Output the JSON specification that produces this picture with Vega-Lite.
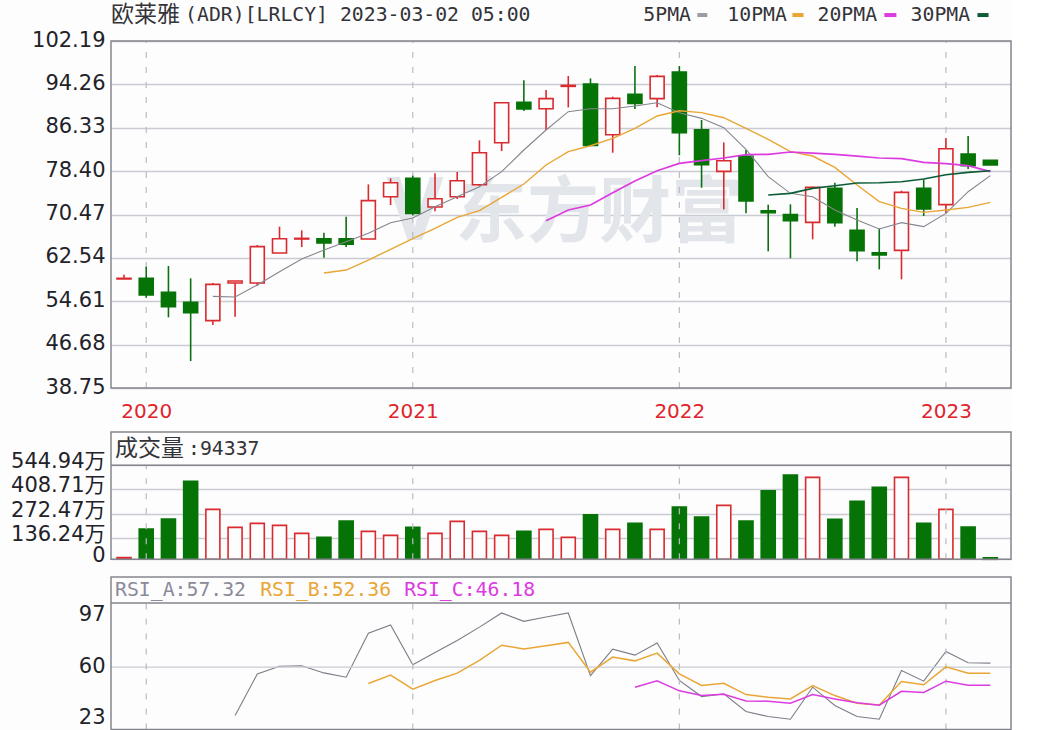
{
  "$schema": "https://vega.github.io/schema/vega-lite/v6.json",
  "background": "#fdfdfe",
  "padding": 0,
  "spacing": 10,
  "config": {
    "view": {"stroke": null},
    "axis": {"labelFont": "DejaVu Sans, Noto Sans CJK SC", "labelFontSize": 21, "labelColor": "#222228"},
    "text": {"font": "DejaVu Sans Mono, Noto Sans CJK SC", "fontSize": 19.8, "align": "left", "baseline": "middle"}
  },
  "datasets": {
    "years": [{"i": 1}, {"i": 13}, {"i": 25}, {"i": 37}],
    "months": [
      {"month": "2019-12", "i": 0, "open": 58.68, "close": 58.80, "high": 59.47, "low": 58.68, "vol": 10.5},
      {"month": "2020-01", "i": 1, "open": 58.80, "close": 55.75, "high": 60.93, "low": 55.26, "vol": 185.2},
      {"month": "2020-02", "i": 2, "open": 56.24, "close": 53.62, "high": 61.05, "low": 51.67, "vol": 241.6},
      {"month": "2020-03", "i": 3, "open": 54.41, "close": 52.52, "high": 58.80, "low": 43.69, "vol": 454.2},
      {"month": "2020-04", "i": 4, "open": 51.06, "close": 57.70, "high": 57.95, "low": 50.27, "vol": 296.2, "ma5": 55.51},
      {"month": "2020-05", "i": 5, "open": 57.95, "close": 58.31, "high": 58.31, "low": 51.79, "vol": 194.6, "ma5": 55.39, "rsiA": 25.4},
      {"month": "2020-06", "i": 6, "open": 57.95, "close": 64.59, "high": 64.89, "low": 57.46, "vol": 217.1, "ma5": 57.58, "rsiA": 55.2},
      {"month": "2020-07", "i": 7, "open": 63.43, "close": 66.05, "high": 68.25, "low": 63.43, "vol": 205.9, "ma5": 60.02, "rsiA": 60.7},
      {"month": "2020-08", "i": 8, "open": 65.99, "close": 66.11, "high": 67.57, "low": 64.53, "vol": 160.7, "ma5": 62.33, "rsiA": 61.0},
      {"month": "2020-09", "i": 9, "open": 66.05, "close": 65.26, "high": 67.15, "low": 62.58, "vol": 138.1, "ma5": 63.98, "ma10": 59.77, "rsiA": 55.9},
      {"month": "2020-10", "i": 10, "open": 66.05, "close": 65.02, "high": 70.07, "low": 64.53, "vol": 230.3, "ma5": 65.50, "ma10": 60.32, "rsiA": 52.8},
      {"month": "2020-11", "i": 11, "open": 65.99, "close": 73.00, "high": 75.98, "low": 65.99, "vol": 172.0, "ma5": 67.03, "ma10": 62.15, "rsiA": 84.3, "rsiB": 48.3},
      {"month": "2020-12", "i": 12, "open": 73.73, "close": 76.29, "high": 77.08, "low": 72.21, "vol": 149.4, "ma5": 68.98, "ma10": 64.10, "rsiA": 90.1, "rsiB": 54.3},
      {"month": "2021-01", "i": 13, "open": 77.08, "close": 70.68, "high": 77.57, "low": 70.32, "vol": 194.6, "ma5": 69.83, "ma10": 66.05, "rsiA": 61.7, "rsiB": 44.3},
      {"month": "2021-02", "i": 14, "open": 71.84, "close": 73.36, "high": 78.00, "low": 71.05, "vol": 160.7, "ma5": 71.90, "ma10": 67.94, "rsiA": 70.5, "rsiB": 50.5},
      {"month": "2021-03", "i": 15, "open": 73.73, "close": 76.65, "high": 78.24, "low": 73.30, "vol": 228.4, "ma5": 73.73, "ma10": 69.95, "rsiA": 79.1, "rsiB": 55.7},
      {"month": "2021-04", "i": 16, "open": 75.92, "close": 81.77, "high": 84.03, "low": 75.74, "vol": 172.0, "ma5": 75.56, "ma10": 71.17, "rsiA": 88.6, "rsiB": 64.8},
      {"month": "2021-05", "i": 17, "open": 83.60, "close": 90.91, "high": 90.91, "low": 82.08, "vol": 149.4, "ma5": 78.30, "ma10": 73.61, "rsiA": 98.7, "rsiB": 75.7},
      {"month": "2021-06", "i": 18, "open": 90.98, "close": 89.76, "high": 95.00, "low": 89.39, "vol": 172.0, "ma5": 82.26, "ma10": 76.05, "rsiA": 92.7, "rsiB": 72.9},
      {"month": "2021-07", "i": 19, "open": 89.82, "close": 91.65, "high": 93.23, "low": 85.92, "vol": 183.3, "ma5": 85.92, "ma10": 79.52, "ma20": 69.34, "rsiA": 95.8, "rsiB": 75.3},
      {"month": "2021-08", "i": 20, "open": 93.90, "close": 94.08, "high": 95.79, "low": 90.06, "vol": 138.1, "ma5": 89.27, "ma10": 81.96, "ma20": 71.29, "rsiA": 98.7, "rsiB": 77.7},
      {"month": "2021-09", "i": 21, "open": 94.33, "close": 83.11, "high": 95.36, "low": 82.99, "vol": 266.0, "ma5": 89.82, "ma10": 83.05, "ma20": 72.21, "rsiA": 54.0, "rsiB": 56.4},
      {"month": "2021-10", "i": 22, "open": 85.06, "close": 91.71, "high": 92.01, "low": 81.77, "vol": 183.3, "ma5": 89.82, "ma10": 84.39, "ma20": 74.46, "rsiA": 72.9, "rsiB": 67.2},
      {"month": "2021-11", "i": 23, "open": 92.44, "close": 90.79, "high": 97.62, "low": 89.76, "vol": 217.1, "ma5": 90.30, "ma10": 86.22, "ma20": 76.59, "rsiA": 68.6, "rsiB": 64.5, "rsiC": 45.7},
      {"month": "2021-12", "i": 24, "open": 91.65, "close": 95.73, "high": 95.97, "low": 90.06, "vol": 183.3, "ma5": 90.91, "ma10": 88.48, "ma20": 78.48, "rsiA": 77.2, "rsiB": 70.0, "rsiC": 50.2},
      {"month": "2022-01", "i": 25, "open": 96.52, "close": 85.43, "high": 97.62, "low": 81.29, "vol": 309.3, "ma5": 89.09, "ma10": 89.45, "ma20": 79.82, "rsiA": 50.5, "rsiB": 55.2, "rsiC": 43.1},
      {"month": "2022-02", "i": 26, "open": 85.98, "close": 79.58, "high": 87.75, "low": 75.37, "vol": 252.9, "ma5": 88.05, "ma10": 89.09, "ma20": 80.31, "rsiA": 39.0, "rsiB": 46.9, "rsiC": 39.7},
      {"month": "2022-03", "i": 27, "open": 78.36, "close": 80.31, "high": 83.66, "low": 71.41, "vol": 318.8, "ma5": 86.34, "ma10": 88.17, "ma20": 80.80, "rsiA": 40.9, "rsiB": 48.5, "rsiC": 40.7},
      {"month": "2022-04", "i": 28, "open": 81.10, "close": 72.94, "high": 82.26, "low": 70.68, "vol": 230.3, "ma5": 82.38, "ma10": 86.22, "ma20": 81.41, "rsiA": 28.3, "rsiB": 40.4, "rsiC": 35.9},
      {"month": "2022-05", "i": 29, "open": 71.17, "close": 70.80, "high": 72.27, "low": 63.74, "vol": 401.6, "ma5": 77.39, "ma10": 84.21, "ma20": 81.47, "ma30": 74.03, "rsiA": 24.7, "rsiB": 38.5, "rsiC": 35.7},
      {"month": "2022-06", "i": 30, "open": 70.44, "close": 69.34, "high": 72.33, "low": 62.46, "vol": 490.0, "ma5": 74.34, "ma10": 81.96, "ma20": 81.90, "ma30": 74.34, "rsiA": 22.8, "rsiB": 37.3, "rsiC": 34.2},
      {"month": "2022-07", "i": 31, "open": 69.04, "close": 75.44, "high": 75.56, "low": 65.93, "vol": 476.8, "ma5": 73.73, "ma10": 81.16, "ma20": 81.71, "ma30": 75.25, "rsiA": 45.7, "rsiB": 46.9, "rsiC": 40.4},
      {"month": "2022-08", "i": 32, "open": 75.25, "close": 68.98, "high": 76.29, "low": 68.25, "vol": 239.7, "ma5": 71.29, "ma10": 79.09, "ma20": 81.47, "ma30": 75.74, "rsiA": 32.6, "rsiB": 39.7, "rsiC": 37.3},
      {"month": "2022-09", "i": 33, "open": 67.57, "close": 63.86, "high": 71.66, "low": 61.91, "vol": 341.3, "ma5": 69.46, "ma10": 75.86, "ma20": 81.16, "ma30": 76.23, "rsiA": 24.7, "rsiB": 34.2, "rsiC": 34.5},
      {"month": "2022-10", "i": 34, "open": 63.49, "close": 63.07, "high": 67.88, "low": 60.44, "vol": 420.4, "ma5": 67.82, "ma10": 72.82, "ma20": 80.80, "ma30": 76.29, "rsiA": 22.8, "rsiB": 33.0, "rsiC": 32.8},
      {"month": "2022-11", "i": 35, "open": 63.92, "close": 74.52, "high": 74.83, "low": 58.62, "vol": 476.8, "ma5": 68.98, "ma10": 71.60, "ma20": 80.68, "ma30": 76.47, "rsiA": 57.6, "rsiB": 49.7, "rsiC": 42.8},
      {"month": "2022-12", "i": 36, "open": 75.25, "close": 71.48, "high": 76.90, "low": 70.20, "vol": 217.1, "ma5": 68.25, "ma10": 70.87, "ma20": 80.01, "ma30": 76.96, "rsiA": 50.0, "rsiB": 47.4, "rsiC": 41.9},
      {"month": "2023-01", "i": 37, "open": 72.27, "close": 82.50, "high": 84.46, "low": 70.68, "vol": 296.2, "ma5": 70.68, "ma10": 71.29, "ma20": 79.76, "ma30": 77.75, "rsiA": 71.2, "rsiB": 60.2, "rsiC": 50.0},
      {"month": "2023-02", "i": 38, "open": 81.53, "close": 79.40, "high": 84.82, "low": 78.79, "vol": 196.4, "ma5": 74.64, "ma10": 71.78, "ma20": 79.40, "ma30": 78.18, "rsiA": 63.1, "rsiB": 55.7, "rsiC": 47.1},
      {"month": "2023-03", "i": 39, "open": 80.37, "close": 79.52, "high": 80.37, "low": 79.52, "vol": 9.43, "ma5": 77.57, "ma10": 72.69, "ma20": 78.30, "ma30": 78.48, "rsiA": 62.9, "rsiB": 55.7, "rsiC": 47.1}
    ]
  },
  "vconcat": [
    {
      "width": 900,
      "height": 388,
      "layer": [
        {
          "data": {"name": "months"},
          "mark": {"type": "point", "opacity": 0},
          "encoding": {
            "x": {
              "field": "i",
              "type": "quantitative",
              "title": null,
              "scale": {"domain": [-0.586, 39.93], "nice": false, "zero": false, "padding": 0},
              "axis": {
                "values": [1, 13, 25, 37],
                "labelExpr": "'' + (2020 + (datum.value - 1) / 12)",
                "labelColor": "#e0242c",
                "labelFontSize": 20,
                "labelPadding": 13,
                "ticks": false,
                "domain": false,
                "grid": false
              }
            },
            "y": {
              "field": "close",
              "type": "quantitative",
              "title": null,
              "scale": {"domain": [38.75, 109.69], "nice": false, "zero": false},
              "axis": {
                "values": [38.75, 46.68, 54.61, 62.54, 70.47, 78.40, 86.33, 94.26, 102.19],
                "tickCount": 10,
                "format": ".2f",
                "grid": true,
                "gridColor": "#c9ccd2",
                "gridWidth": 1.4,
                "ticks": false,
                "domain": false,
                "labelPadding": 6,
                "labelOffset": -1,
                "labelOverlap": false,
                "minExtent": 111,
                "maxExtent": 111
              }
            }
          }
        },
        {
          "data": {"values": [{}]},
          "mark": {"type": "text", "text": "东方财富", "font": "Noto Sans CJK SC", "fontWeight": 700, "fontSize": 72, "color": "#e2e5ea"},
          "encoding": {"x": {"datum": 14.9}, "y": {"datum": 70.56}}
        },
        {
          "data": {"values": [{}]},
          "mark": {"type": "text", "text": "V", "font": "Noto Sans", "fontWeight": 700, "fontSize": 88, "color": "#e2e5ea"},
          "encoding": {"x": {"datum": 11.8}, "y": {"datum": 70.56}}
        },
        {
          "data": {"name": "years"},
          "mark": {"type": "rule", "stroke": "#b9bcc4", "strokeWidth": 1.2, "strokeDash": [6, 9]},
          "encoding": {"x": {"field": "i", "type": "quantitative"}, "y": {"datum": 38.75}, "y2": {"datum": 102.19}}
        },
        {
          "data": {"values": [{}]},
          "mark": {"type": "rect", "filled": false, "stroke": "#85858e", "strokeWidth": 1.5},
          "encoding": {"x": {"datum": -0.586}, "x2": {"datum": 39.93}, "y": {"datum": 38.75}, "y2": {"datum": 102.19}}
        },
        {
          "data": {"name": "months"},
          "mark": {"type": "rule", "strokeWidth": 1.6},
          "encoding": {
            "x": {"field": "i", "type": "quantitative"},
            "y": {"field": "low", "type": "quantitative"},
            "y2": {"field": "high"},
            "stroke": {"condition": {"test": "datum.close >= datum.open", "value": "#d92a2e"}, "value": "#0b7010"}
          }
        },
        {
          "data": {"name": "months"},
          "mark": {"type": "bar", "orient": "vertical", "size": 14, "strokeWidth": 1.6},
          "encoding": {
            "x": {"field": "i", "type": "quantitative"},
            "y": {"field": "open", "type": "quantitative"},
            "y2": {"field": "close"},
            "fill": {"condition": {"test": "datum.close >= datum.open", "value": "#fdfdfe"}, "value": "#067306"},
            "stroke": {"condition": {"test": "datum.close >= datum.open", "value": "#d92a2e"}, "value": "#067306"}
          }
        },
        {
          "data": {"name": "months"},
          "mark": {"type": "line", "stroke": "#85858f", "strokeWidth": 1.1},
          "encoding": {"x": {"field": "i", "type": "quantitative"}, "y": {"field": "ma5", "type": "quantitative"}}
        },
        {
          "data": {"name": "months"},
          "mark": {"type": "line", "stroke": "#e9a635", "strokeWidth": 1.4},
          "encoding": {"x": {"field": "i", "type": "quantitative"}, "y": {"field": "ma10", "type": "quantitative"}}
        },
        {
          "data": {"name": "months"},
          "mark": {"type": "line", "stroke": "#dc3be0", "strokeWidth": 1.7},
          "encoding": {"x": {"field": "i", "type": "quantitative"}, "y": {"field": "ma20", "type": "quantitative"}}
        },
        {
          "data": {"name": "months"},
          "mark": {"type": "line", "stroke": "#0c5c36", "strokeWidth": 1.6},
          "encoding": {"x": {"field": "i", "type": "quantitative"}, "y": {"field": "ma30", "type": "quantitative"}}
        },
        {
          "data": {"values": [{}]},
          "mark": {"type": "text", "text": "欧莱雅", "fontSize": 23, "color": "#333338"},
          "encoding": {"x": {"datum": -0.586}, "y": {"datum": 106.94}}
        },
        {
          "data": {"values": [{}]},
          "mark": {"type": "text", "text": "(ADR)[LRLCY] 2023-03-02 05:00", "color": "#333338"},
          "encoding": {"x": {"datum": 2.75}, "y": {"datum": 106.94}}
        },
        {
          "data": {"values": [{}]},
          "mark": {"type": "text", "text": "5PMA", "color": "#333338"},
          "encoding": {"x": {"datum": 23.38}, "y": {"datum": 106.94}}
        },
        {
          "data": {"values": [{}]},
          "mark": {"type": "text", "text": "10PMA", "color": "#333338"},
          "encoding": {"x": {"datum": 27.16}, "y": {"datum": 106.94}}
        },
        {
          "data": {"values": [{}]},
          "mark": {"type": "text", "text": "20PMA", "color": "#333338"},
          "encoding": {"x": {"datum": 31.22}, "y": {"datum": 106.94}}
        },
        {
          "data": {"values": [{}]},
          "mark": {"type": "text", "text": "30PMA", "color": "#333338"},
          "encoding": {"x": {"datum": 35.41}, "y": {"datum": 106.94}}
        },
        {
          "data": {"values": [{}]},
          "mark": {"type": "rule", "stroke": "#9c9ca6", "strokeWidth": 4},
          "encoding": {"x": {"datum": 25.81}, "x2": {"datum": 26.26}, "y": {"datum": 106.94}}
        },
        {
          "data": {"values": [{}]},
          "mark": {"type": "rule", "stroke": "#e9a635", "strokeWidth": 4},
          "encoding": {"x": {"datum": 30.09}, "x2": {"datum": 30.59}, "y": {"datum": 106.94}}
        },
        {
          "data": {"values": [{}]},
          "mark": {"type": "rule", "stroke": "#dc3be0", "strokeWidth": 4},
          "encoding": {"x": {"datum": 34.23}, "x2": {"datum": 34.77}, "y": {"datum": 106.94}}
        },
        {
          "data": {"values": [{}]},
          "mark": {"type": "rule", "stroke": "#0c5c36", "strokeWidth": 4},
          "encoding": {"x": {"datum": 38.42}, "x2": {"datum": 38.92}, "y": {"datum": 106.94}}
        }
      ]
    },
    {
      "width": 900,
      "height": 127.3,
      "layer": [
        {
          "data": {"name": "months"},
          "mark": {"type": "bar", "orient": "vertical", "size": 14, "strokeWidth": 1.6},
          "encoding": {
            "x": {
              "field": "i",
              "type": "quantitative",
              "title": null,
              "scale": {"domain": [-0.586, 39.93], "nice": false, "zero": false, "padding": 0},
              "axis": null
            },
            "y": {
              "field": "vol",
              "type": "quantitative",
              "stack": null,
              "title": null,
              "scale": {"domain": [0, 136.24, 544.94, 732.9], "range": [127.3, 105.7, 33.3, 0], "nice": false, "zero": false},
              "axis": {
                "values": [0, 136.24, 272.47, 408.71, 544.94],
                "tickCount": 10,
                "labelExpr": "datum.value == 0 ? '0' : format(datum.value, '.2f') + '万'",
                "grid": true,
                "gridColor": "#c9ccd2",
                "gridWidth": 1.4,
                "ticks": false,
                "domain": false,
                "labelPadding": 6,
                "labelOffset": -3.5,
                "labelOverlap": false,
                "minExtent": 111,
                "maxExtent": 111
              }
            },
            "fill": {"condition": {"test": "datum.close >= datum.open", "value": "#fdfdfe"}, "value": "#067306"},
            "stroke": {"condition": {"test": "datum.close >= datum.open", "value": "#d92a2e"}, "value": "#067306"}
          }
        },
        {
          "data": {"name": "years"},
          "mark": {"type": "rule", "stroke": "#b9bcc4", "strokeWidth": 1.2, "strokeDash": [6, 9]},
          "encoding": {"x": {"field": "i", "type": "quantitative", "axis": null}, "y": {"datum": 0}, "y2": {"datum": 544.94}}
        },
        {
          "data": {"values": [{}]},
          "mark": {"type": "rect", "filled": false, "stroke": "#85858e", "strokeWidth": 1.5},
          "encoding": {"x": {"datum": -0.586, "axis": null}, "x2": {"datum": 39.93}, "y": {"datum": 0}, "y2": {"datum": 732.9}}
        },
        {
          "data": {"values": [{}]},
          "mark": {"type": "rule", "stroke": "#85858e", "strokeWidth": 1.5},
          "encoding": {"x": {"datum": -0.586, "axis": null}, "x2": {"datum": 39.93}, "y": {"datum": 544.94}}
        },
        {
          "data": {"values": [{}]},
          "mark": {"type": "text", "text": "成交量", "fontSize": 23, "color": "#333338"},
          "encoding": {"x": {"datum": -0.405, "axis": null}, "y": {"datum": 636.9}}
        },
        {
          "data": {"values": [{}]},
          "mark": {"type": "text", "text": ":94337", "color": "#333338"},
          "encoding": {"x": {"datum": 2.88, "axis": null}, "y": {"datum": 636.9}}
        }
      ]
    },
    {
      "width": 900,
      "height": 153.6,
      "layer": [
        {
          "data": {"name": "months"},
          "mark": {"type": "line", "stroke": "#7c7c88", "strokeWidth": 1.1},
          "encoding": {
            "x": {
              "field": "i",
              "type": "quantitative",
              "title": null,
              "scale": {"domain": [-0.586, 39.93], "nice": false, "zero": false, "padding": 0},
              "axis": null
            },
            "y": {
              "field": "rsiA",
              "type": "quantitative",
              "title": null,
              "scale": {"domain": [15.4, 125.12], "nice": false, "zero": false},
              "axis": {
                "values": [23, 60, 97],
                "grid": false,
                "ticks": false,
                "domain": false,
                "labelPadding": 6,
                "labelOffset": -1,
                "labelOverlap": false,
                "minExtent": 111,
                "maxExtent": 111
              }
            }
          }
        },
        {
          "data": {"values": [{}]},
          "mark": {"type": "rule", "stroke": "#c9ccd2", "strokeWidth": 1.4},
          "encoding": {"x": {"datum": -0.586, "axis": null}, "x2": {"datum": 39.93}, "y": {"datum": 60}}
        },
        {
          "data": {"name": "years"},
          "mark": {"type": "rule", "stroke": "#b9bcc4", "strokeWidth": 1.2, "strokeDash": [6, 9]},
          "encoding": {"x": {"field": "i", "type": "quantitative", "axis": null}, "y": {"datum": 15.4}, "y2": {"datum": 105.8}}
        },
        {
          "data": {"name": "months"},
          "mark": {"type": "line", "stroke": "#e9a635", "strokeWidth": 1.5},
          "encoding": {"x": {"field": "i", "type": "quantitative", "axis": null}, "y": {"field": "rsiB", "type": "quantitative"}}
        },
        {
          "data": {"name": "months"},
          "mark": {"type": "line", "stroke": "#dc3be0", "strokeWidth": 1.5},
          "encoding": {"x": {"field": "i", "type": "quantitative", "axis": null}, "y": {"field": "rsiC", "type": "quantitative"}}
        },
        {
          "data": {"values": [{}]},
          "mark": {"type": "rect", "filled": false, "stroke": "#85858e", "strokeWidth": 1.5},
          "encoding": {"x": {"datum": -0.586, "axis": null}, "x2": {"datum": 39.93}, "y": {"datum": 15.4}, "y2": {"datum": 124.4}}
        },
        {
          "data": {"values": [{}]},
          "mark": {"type": "rule", "stroke": "#85858e", "strokeWidth": 1.5},
          "encoding": {"x": {"datum": -0.586, "axis": null}, "x2": {"datum": 39.93}, "y": {"datum": 105.8}}
        },
        {
          "data": {"values": [{}]},
          "mark": {"type": "text", "text": "RSI_A:57.32", "color": "#8a8a98"},
          "encoding": {"x": {"datum": -0.405, "axis": null}, "y": {"datum": 114.9}}
        },
        {
          "data": {"values": [{}]},
          "mark": {"type": "text", "text": "RSI_B:52.36", "color": "#e9a635"},
          "encoding": {"x": {"datum": 6.13, "axis": null}, "y": {"datum": 114.9}}
        },
        {
          "data": {"values": [{}]},
          "mark": {"type": "text", "text": "RSI_C:46.18", "color": "#dc3be0"},
          "encoding": {"x": {"datum": 12.61, "axis": null}, "y": {"datum": 114.9}}
        }
      ]
    }
  ]
}
